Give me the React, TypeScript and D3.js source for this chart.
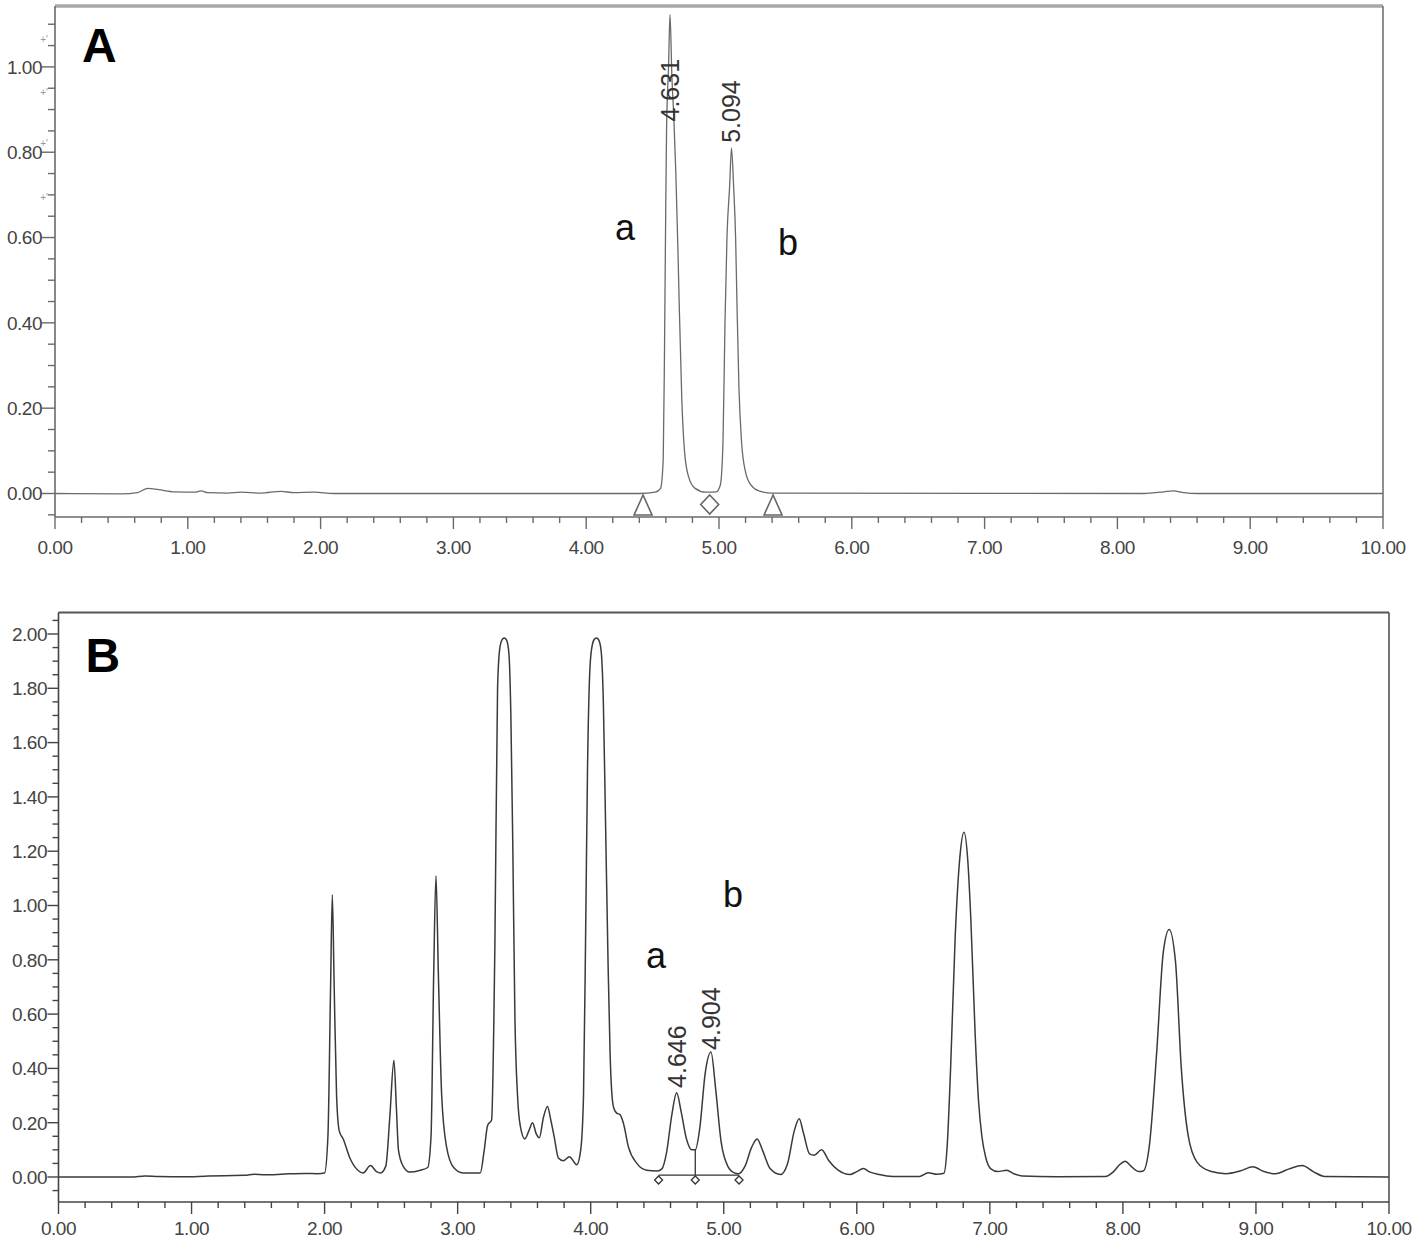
import React from 'react';
import * as d3 from 'd3';

// ---------- data ----------
const X_TICKS = [0, 1, 2, 3, 4, 5, 6, 7, 8, 9, 10];
const X_TICK_LABELS = ["0.00", "1.00", "2.00", "3.00", "4.00", "5.00", "6.00", "7.00", "8.00", "9.00", "10.00"];
const A_Y_TICKS = [0, 0.2, 0.4, 0.6, 0.8, 1.0];
const A_Y_TICK_LABELS = ["0.00", "0.20", "0.40", "0.60", "0.80", "1.00"];
const B_Y_TICKS = [0, 0.2, 0.4, 0.6, 0.8, 1.0, 1.2, 1.4, 1.6, 1.8, 2.0];
const B_Y_TICK_LABELS = ["0.00", "0.20", "0.40", "0.60", "0.80", "1.00", "1.20", "1.40", "1.60", "1.80", "2.00"];

// chromatogram A (time min, AU)
const A_TRACE: [number, number][] = [
  [0.00, 0.000], [0.50, -0.001], [0.62, 0.002], [0.70, 0.012], [0.78, 0.009], [0.90, 0.004],
  [1.05, 0.003], [1.10, 0.006], [1.15, 0.002], [1.30, 0.001], [1.40, 0.003], [1.55, 0.001],
  [1.70, 0.005], [1.80, 0.002], [1.95, 0.003], [2.10, 0.000], [4.40, 0.000], [4.52, 0.003],
  [4.56, 0.012], [4.58, 0.08], [4.59, 0.35], [4.597, 0.60], [4.605, 0.85], [4.62, 1.00],
  [4.631, 1.123], [4.645, 0.98], [4.66, 0.88], [4.675, 0.75], [4.69, 0.58], [4.70, 0.45],
  [4.72, 0.22], [4.74, 0.10], [4.77, 0.04], [4.82, 0.012], [4.90, 0.003], [4.98, 0.004],
  [5.01, 0.02], [5.03, 0.12], [5.045, 0.40], [5.06, 0.60], [5.08, 0.72], [5.094, 0.81],
  [5.11, 0.72], [5.125, 0.60], [5.135, 0.45], [5.15, 0.25], [5.17, 0.12], [5.20, 0.05],
  [5.24, 0.02], [5.30, 0.006], [5.40, 0.001], [8.20, 0.000], [8.35, 0.004], [8.42, 0.006],
  [8.50, 0.002], [8.60, 0.000], [10.00, 0.000],
];

// chromatogram B
const B_TRACE: [number, number][] = [
  [0.00, 0.000], [0.55, 0.000], [0.65, 0.004], [0.75, 0.002], [0.95, 0.001], [1.10, 0.003],
  [1.25, 0.005], [1.40, 0.006], [1.47, 0.010], [1.55, 0.008], [1.70, 0.011], [1.85, 0.013],
  [1.95, 0.012], [2.00, 0.015], [2.025, 0.15], [2.045, 0.70], [2.058, 1.04], [2.072, 0.70],
  [2.09, 0.30], [2.11, 0.17], [2.14, 0.14], [2.19, 0.07], [2.25, 0.025], [2.29, 0.015],
  [2.345, 0.042], [2.39, 0.02], [2.42, 0.015], [2.46, 0.04], [2.49, 0.22], [2.521, 0.43],
  [2.54, 0.25], [2.555, 0.10], [2.59, 0.04], [2.64, 0.018], [2.72, 0.025], [2.775, 0.035],
  [2.80, 0.15], [2.82, 0.75], [2.837, 1.11], [2.855, 0.75], [2.88, 0.30], [2.917, 0.11],
  [2.97, 0.035], [3.04, 0.015], [3.17, 0.015], [3.20, 0.10], [3.225, 0.19], [3.255, 0.21],
  [3.28, 0.86], [3.30, 1.80], [3.315, 1.94], [3.333, 1.978], [3.35, 1.985], [3.367, 1.978],
  [3.385, 1.93], [3.40, 1.70], [3.415, 1.20], [3.43, 0.60], [3.45, 0.30], [3.47, 0.19],
  [3.505, 0.14], [3.535, 0.17], [3.563, 0.20], [3.59, 0.16], [3.614, 0.145], [3.645, 0.22],
  [3.675, 0.26], [3.70, 0.21], [3.725, 0.15], [3.757, 0.07], [3.794, 0.06], [3.84, 0.075],
  [3.895, 0.045], [3.925, 0.10], [3.946, 0.30], [3.962, 0.90], [3.976, 1.50], [3.995, 1.88],
  [4.012, 1.96], [4.03, 1.982], [4.045, 1.985], [4.06, 1.978], [4.078, 1.94], [4.095, 1.75],
  [4.11, 1.35], [4.13, 0.80], [4.146, 0.45], [4.17, 0.26], [4.195, 0.235], [4.22, 0.23],
  [4.245, 0.20], [4.284, 0.11], [4.347, 0.05], [4.42, 0.025], [4.50, 0.022], [4.535, 0.03],
  [4.57, 0.09], [4.61, 0.23], [4.646, 0.31], [4.68, 0.24], [4.72, 0.14], [4.76, 0.10],
  [4.786, 0.10], [4.82, 0.18], [4.86, 0.38], [4.904, 0.46], [4.94, 0.32], [4.98, 0.13],
  [5.03, 0.04], [5.08, 0.015], [5.11, 0.012], [5.16, 0.04], [5.21, 0.11], [5.251, 0.14],
  [5.29, 0.10], [5.35, 0.03], [5.426, 0.009], [5.48, 0.05], [5.53, 0.17], [5.567, 0.215],
  [5.60, 0.16], [5.645, 0.085], [5.68, 0.08], [5.735, 0.10], [5.79, 0.06], [5.86, 0.025],
  [5.948, 0.009], [6.00, 0.02], [6.049, 0.031], [6.10, 0.018], [6.167, 0.009], [6.27, 0.002],
  [6.47, 0.002], [6.537, 0.016], [6.60, 0.01], [6.655, 0.014], [6.68, 0.12], [6.705, 0.40],
  [6.74, 0.89], [6.775, 1.18], [6.806, 1.27], [6.835, 1.16], [6.857, 0.95], [6.89, 0.52],
  [6.915, 0.28], [6.94, 0.15], [6.97, 0.07], [7.008, 0.03], [7.06, 0.02], [7.126, 0.025],
  [7.18, 0.012], [7.244, 0.004], [7.50, 0.001], [7.867, 0.002], [7.93, 0.02], [7.975, 0.045],
  [8.018, 0.058], [8.06, 0.04], [8.12, 0.02], [8.153, 0.022], [8.20, 0.12], [8.254, 0.46],
  [8.304, 0.83], [8.348, 0.912], [8.395, 0.795], [8.439, 0.40], [8.49, 0.154], [8.557, 0.055],
  [8.658, 0.021], [8.776, 0.012], [8.88, 0.022], [8.978, 0.038], [9.06, 0.02], [9.146, 0.012],
  [9.25, 0.03], [9.348, 0.042], [9.43, 0.02], [9.517, 0.002], [10.00, 0.000],
];

const A_PEAK_LABELS = [
  { text: "4.631", t: 4.631, v: 0.872 },
  { text: "5.094", t: 5.094, v: 0.822 },
];
const B_PEAK_LABELS = [
  { text: "4.646", t: 4.646, v: 0.328 },
  { text: "4.904", t: 4.904, v: 0.468 },
];
const A_COMPOUNDS = [
  { text: "a", t: 4.292, v: 0.594 },
  { text: "b", t: 5.52, v: 0.559 },
];
const B_COMPOUNDS = [
  { text: "a", t: 4.49, v: 0.77 },
  { text: "b", t: 5.07, v: 0.994 },
];
const A_TRIANGLES = [4.428, 5.407];
const A_DIAMONDS = [4.93];
const B_MARKERS = [4.51, 4.786, 5.115];
const B_DROP = { t: 4.786, v: 0.10 };
const A_ARTIFACTS = [1.065, 0.94, 0.82, 0.695];

const FONT = "'Liberation Sans', Arial, Helvetica, sans-serif";

function range(a: number, b: number, s: number) {
  const out: number[] = [];
  for (let i = 0; a + i * s <= b + 1e-9; i++) out.push(+(a + i * s).toFixed(4));
  return out;
}

type PanelProps = {
  letter: string;
  left: number; right: number; top: number; bottom: number;
  y0px: number; yRefPx: number; yRef: number;
  yTicks: number[]; yTickLabels: string[];
  trace: [number, number][];
  traceColor: string; traceWidth: number;
  axisColor: string; topColor: string; topWidth: number;
  yMajorLen: number; yMinorLen: number; yLabelX: number;
  xLabelY: number;
  peakLabels: { text: string; t: number; v: number }[];
  compounds: { text: string; t: number; v: number }[];
  letterBaseline: number;
  children?: (x: d3.ScaleLinear<number, number>, y: d3.ScaleLinear<number, number>) => React.ReactNode;
};

function Panel(p: PanelProps) {
  const x = d3.scaleLinear().domain([0, 10]).range([p.left, p.right]);
  const y = d3.scaleLinear().domain([0, p.yRef]).range([p.y0px, p.yRefPx]);
  const vTop = y.invert(p.top);
  const vBot = y.invert(p.bottom);
  const line = d3.line<[number, number]>()
    .x(d => x(d[0]))
    .y(d => y(d[1]))
    .curve(d3.curveMonotoneX);
  const yMinor = range(Math.ceil(vBot / 0.05) * 0.05, vTop, 0.05);
  const xMinor = range(0, 10, 0.2);
  const isMajorY = (v: number) => p.yTicks.some(t => Math.abs(t - v) < 1e-6);
  const isMajorX = (v: number) => X_TICKS.some(t => Math.abs(t - v) < 1e-6);
  return (
    <g>
      <path d={line(p.trace) || ''} fill="none" stroke={p.traceColor} strokeWidth={p.traceWidth} strokeLinejoin="round" />
      <line x1={p.left} x2={p.right} y1={p.top} y2={p.top} stroke={p.topColor} strokeWidth={p.topWidth} />
      <line x1={p.right} x2={p.right} y1={p.top} y2={p.bottom} stroke={p.axisColor} strokeWidth={1.5} />
      <line x1={p.left} x2={p.left} y1={p.top} y2={p.bottom} stroke={p.axisColor} strokeWidth={1.6} />
      <line x1={p.left} x2={p.right} y1={p.bottom} y2={p.bottom} stroke={p.axisColor} strokeWidth={1.6} />
      {yMinor.map((v, i) => (
        <line key={'ym' + i} x1={p.left} x2={p.left - (isMajorY(v) ? p.yMajorLen : p.yMinorLen)}
          y1={y(v)} y2={y(v)} stroke={p.axisColor} strokeWidth={1.4} />
      ))}
      {p.yTicks.map((v, i) => (
        <text key={'yl' + i} x={p.yLabelX} y={y(v)} dy="0.36em" textAnchor="end" fontFamily={FONT}
          fontSize={19} fill="#444" letterSpacing={-0.5}>{p.yTickLabels[i]}</text>
      ))}
      {xMinor.map((v, i) => (
        <line key={'xm' + i} x1={x(v)} x2={x(v)} y1={p.bottom} y2={p.bottom + (isMajorX(v) ? 12 : 6)}
          stroke={p.axisColor} strokeWidth={1.4} />
      ))}
      {X_TICKS.map((v, i) => (
        <text key={'xl' + i} x={x(v)} y={p.xLabelY} dy="0.36em" textAnchor="middle" fontFamily={FONT}
          fontSize={19} fill="#444" letterSpacing={-0.5}>{X_TICK_LABELS[i]}</text>
      ))}
      {p.peakLabels.map((l, i) => (
        <text key={'pl' + i} transform={`translate(${x(l.t)},${y(l.v)}) rotate(-90)`} dy="0.36em"
          textAnchor="start" fontFamily={FONT} fontSize={25} fill="#333">{l.text}</text>
      ))}
      {p.compounds.map((l, i) => (
        <text key={'cp' + i} x={x(l.t)} y={y(l.v)} textAnchor="middle" fontFamily={FONT}
          fontSize={36} fill="#111">{l.text}</text>
      ))}
      <text x={p.left + 27} y={p.letterBaseline} fontFamily={FONT} fontSize={48} fontWeight="bold" fill="#000">{p.letter}</text>
      {p.children ? p.children(x, y) : null}
    </g>
  );
}

export default function App() {
  return (
    <svg width={1418} height={1243} style={{ position: 'absolute', left: 0, top: 0, background: '#fff' }}>
      <rect x={0} y={0} width={1418} height={1243} fill="#fff" />
      <Panel
        letter="A" left={55} right={1383} top={6} bottom={517}
        y0px={493.5} yRefPx={66.9} yRef={1.0}
        yTicks={A_Y_TICKS} yTickLabels={A_Y_TICK_LABELS}
        trace={A_TRACE} traceColor="#6a6a6a" traceWidth={1.3}
        axisColor="#6a6a6a" topColor="#a8a8a8" topWidth={3.5}
        yMajorLen={13} yMinorLen={7} yLabelX={42} xLabelY={547}
        peakLabels={A_PEAK_LABELS} compounds={A_COMPOUNDS} letterBaseline={62}
      >
        {(x, y) => (
          <g>
            {A_ARTIFACTS.map((v, i) => (
              <text key={'af' + i} x={44} y={y(v)} dy="0.35em" textAnchor="middle" fontFamily={FONT}
                fontSize={10} fill="#999">+'</text>
            ))}
            {A_TRIANGLES.map((t, i) => {
              const cx = x(t);
              return <path key={'tr' + i} d={`M${cx},${495} L${cx - 9},${515} L${cx + 9},${515} Z`}
                fill="#fff" stroke="#666" strokeWidth={1.6} />;
            })}
            {A_DIAMONDS.map((t, i) => {
              const cx = x(t);
              return <path key={'dm' + i} d={`M${cx},${495} L${cx + 9},${504.5} L${cx},${514} L${cx - 9},${504.5} Z`}
                fill="#fff" stroke="#666" strokeWidth={1.6} />;
            })}
          </g>
        )}
      </Panel>
      <Panel
        letter="B" left={58.5} right={1389} top={612.5} bottom={1202}
        y0px={1177} yRefPx={634} yRef={2.0}
        yTicks={B_Y_TICKS} yTickLabels={B_Y_TICK_LABELS}
        trace={B_TRACE} traceColor="#3a3a3a" traceWidth={1.5}
        axisColor="#444" topColor="#555" topWidth={2}
        yMajorLen={11} yMinorLen={6} yLabelX={47} xLabelY={1228}
        peakLabels={B_PEAK_LABELS} compounds={B_COMPOUNDS} letterBaseline={672}
      >
        {(x, y) => (
          <g>
            <line x1={x(B_MARKERS[0])} x2={x(B_MARKERS[B_MARKERS.length - 1])} y1={y(0.007)} y2={y(0.007)}
              stroke="#333" strokeWidth={1.3} />
            <line x1={x(B_DROP.t)} x2={x(B_DROP.t)} y1={y(B_DROP.v)} y2={y(0.007)} stroke="#333" strokeWidth={1.3} />
            {B_MARKERS.map((t, i) => {
              const cx = x(t); const cy = y(-0.011);
              return <path key={'bm' + i} d={`M${cx},${cy - 4} L${cx + 4},${cy} L${cx},${cy + 4} L${cx - 4},${cy} Z`}
                fill="#fff" stroke="#333" strokeWidth={1.3} />;
            })}
          </g>
        )}
      </Panel>
    </svg>
  );
}
